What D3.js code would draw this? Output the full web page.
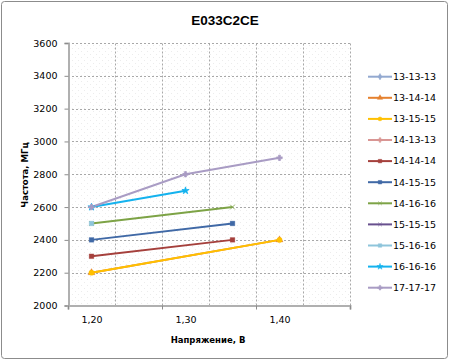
<!DOCTYPE html>
<html><head><meta charset="utf-8">
<script src="https://cdn.jsdelivr.net/npm/d3@7"></script>
<style>body{margin:0;background:#fff}svg{display:block}</style>
</head><body><svg id="c" width="450" height="361"></svg>
<script>
const title = "E033C2CE";
const xTitle = "Напряжение, В";
const yTitle = "Частота, МГц";
const seriesNames = ["13-13-13","13-14-14","13-15-15","14-13-13","14-14-14","14-15-15","14-16-16","15-15-15","15-16-16","16-16-16","17-17-17"];
const seriesColors = ["#93A9D0","#E5812F","#FFC000","#D99694","#A5403C","#4069A6","#7DA346","#68508E","#8EC5DB","#14B2EE","#A99CC4"];
const seriesMarkers = ["diamond","triangle","circle","cross","square","square","x","x","square","star","cross"];
const xValues = {
  "13-13-13": [], "13-14-14": [1.20, 1.40], "13-15-15": [1.20, 1.40], "14-13-13": [],
  "14-14-14": [1.20, 1.35], "14-15-15": [1.20, 1.35], "14-16-16": [1.20, 1.35], "15-15-15": [],
  "15-16-16": [1.20], "16-16-16": [1.20, 1.30], "17-17-17": [1.20, 1.30, 1.40]
};
const yValues = {
  "13-13-13": [], "13-14-14": [2200, 2400], "13-15-15": [2200, 2400], "14-13-13": [],
  "14-14-14": [2300, 2400], "14-15-15": [2400, 2500], "14-16-16": [2500, 2600], "15-15-15": [],
  "15-16-16": [2500], "16-16-16": [2600, 2700], "17-17-17": [2600, 2800, 2900]
};
const yTicks = [2000,2200,2400,2600,2800,3000,3200,3400,3600];
const xLabelValues = [1.20, 1.30, 1.40];
const xMajorTicks = [1.175, 1.275, 1.375, 1.475];
const xGrid = [1.175, 1.225, 1.275, 1.325, 1.375, 1.425, 1.475];

const svg = d3.select("#c");
const font = "'DejaVu Sans', Verdana, sans-serif";
svg.append("rect").attr("x",1.5).attr("y",1.5).attr("width",446).attr("height",357).attr("rx",3)
  .attr("fill","#fff").attr("stroke","#8c8c8c").attr("stroke-width",1);

const x = d3.scaleLinear().domain([1.175, 1.475]).range([68, 350]);
const y = d3.scaleLinear().domain([2000, 3600]).range([305.5, 43]);

// plot-area dotted pattern
const defs = svg.append("defs");
const pat = defs.append("pattern").attr("id","dots").attr("width",6).attr("height",6).attr("patternUnits","userSpaceOnUse");
pat.append("rect").attr("width",6).attr("height",6).attr("fill","#fff");
pat.append("rect").attr("x",0).attr("y",0).attr("width",1).attr("height",1).attr("fill","#ececec");
pat.append("rect").attr("x",3).attr("y",3).attr("width",1).attr("height",1).attr("fill","#ececec");
svg.append("rect").attr("x",x.range()[0]).attr("y",y.range()[1]).attr("width",x.range()[1]-x.range()[0])
  .attr("height",y.range()[0]-y.range()[1]).attr("fill","url(#dots)");

// gridlines
const g = svg.append("g");
g.selectAll(".hg").data(yTicks.slice(1)).join("line")
  .attr("x1",x.range()[0]).attr("x2",x.range()[1]).attr("y1",d=>Math.round(y(d))+0.5).attr("y2",d=>Math.round(y(d))+0.5)
  .attr("stroke","#a8a8a8").attr("stroke-dasharray","2,2");
g.selectAll(".vg").data(xGrid.slice(1)).join("line")
  .attr("y1",y.range()[0]).attr("y2",y.range()[1]).attr("x1",d=>Math.round(x(d))+0.5).attr("x2",d=>Math.round(x(d))+0.5)
  .attr("stroke","#a8a8a8").attr("stroke-dasharray","2,2");

// axes
const yAxis = svg.append("g").attr("transform","translate(68.5,0)")
  .call(d3.axisLeft(y).tickValues(yTicks).tickSize(4).tickPadding(7).tickFormat(d3.format("d")));
yAxis.select(".domain").attr("stroke","#b0b0b0").attr("stroke-width",2);
yAxis.selectAll(".tick line").attr("stroke","#8c8c8c");
yAxis.selectAll("text").attr("font-family",font).attr("font-size","9.5px").attr("fill","#000");

const xAxis = svg.append("g").attr("transform","translate(0,305.5)")
  .call(d3.axisBottom(x).tickValues(xMajorTicks).tickSize(4).tickFormat(""));
xAxis.select(".domain").attr("stroke","#b0b0b0").attr("stroke-width",2);
xAxis.selectAll(".tick line").attr("stroke","#8c8c8c");
const xLab = svg.append("g").attr("transform","translate(0,305.5)")
  .call(d3.axisBottom(x).tickValues(xLabelValues).tickSize(0).tickPadding(11).tickFormat(d=>d3.format(".2f")(d).replace(".",",")));
xLab.select(".domain").remove();
xLab.selectAll("text").attr("font-family",font).attr("font-size","9.5px").attr("fill","#000");

// titles
svg.append("text").attr("x",225).attr("y",25).attr("text-anchor","middle").attr("font-family","'Liberation Sans', Arial, sans-serif")
  .attr("font-weight","bold").attr("font-size","13.5px").text(title);
svg.append("text").attr("x",208).attr("y",343).attr("text-anchor","middle").attr("font-family",font)
  .attr("font-weight","bold").attr("font-size","8.5px").text(xTitle);
svg.append("text").attr("transform","translate(28,175) rotate(-90)").attr("text-anchor","middle").attr("font-family",font)
  .attr("font-weight","bold").attr("font-size","8.5px").text(yTitle);

function markerPath(type, s){
  const m = {diamond:d3.symbolDiamond, triangle:d3.symbolTriangle, circle:d3.symbolCircle, square:d3.symbolSquare,
    cross:d3.symbolCross, x:d3.symbolTimes, star:d3.symbolStar};
  return d3.symbol().type(m[type]).size(s)();
}

const line = d3.line().x(d=>x(d[0])).y(d=>y(d[1]));
const data = seriesNames.map((n,i)=>({name:n,color:seriesColors[i],marker:seriesMarkers[i],
  pts:xValues[n].map((v,j)=>[v,yValues[n][j]])}));

const lines = svg.append("g");
data.forEach(s=>{
  if(s.pts.length>1) lines.append("path").attr("d",line(s.pts)).attr("fill","none").attr("stroke",s.color).attr("stroke-width",2);
});
const marks = svg.append("g");
data.forEach(s=>{
  s.pts.forEach(p=>{
    const thin = s.marker==="x"||s.marker==="cross"||s.marker==="star";
    marks.append("path").attr("d",markerPath(s.marker, thin?16:22))
      .attr("transform",`translate(${x(p[0])},${y(p[1])})`)
      .attr("fill",s.color).attr("stroke",s.color).attr("stroke-width",thin?0.8:0.3);
  });
});

// legend
const leg = svg.append("g");
data.forEach((s,i)=>{
  const cy = 76.7 + i*21.1;
  leg.append("line").attr("x1",368).attr("x2",392).attr("y1",cy).attr("y2",cy).attr("stroke",s.color).attr("stroke-width",2);
  leg.append("path").attr("d",markerPath(s.marker, 12)).attr("transform",`translate(380,${cy})`)
    .attr("fill",s.color).attr("stroke",s.color).attr("stroke-width",0.5);
  leg.append("text").attr("x",393).attr("y",cy).attr("dy","0.35em").attr("font-family",font).attr("font-size","9.5px")
    .attr("fill","#000").text(s.name);
});
</script></body></html>
